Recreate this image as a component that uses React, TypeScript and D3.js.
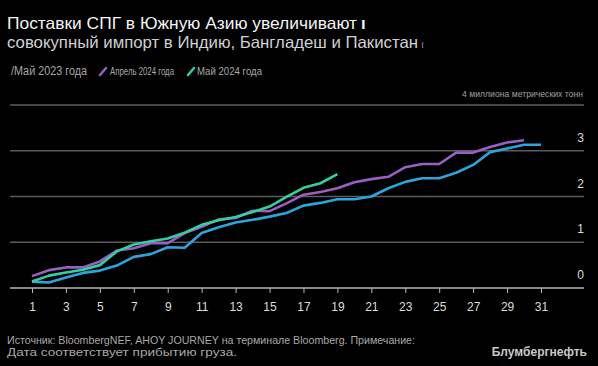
import * as d3 from "d3";
import React, { useEffect, useRef } from "react";

// Cumulative LNG imports, million metric tons, by day of month
const days = d3.range(1, 32);
const may2023 = [
  0.14, 0.12, 0.23, 0.33, 0.38, 0.49, 0.68, 0.74, 0.89, 0.88, 1.2, 1.33, 1.43,
  1.49, 1.56, 1.64, 1.8, 1.86, 1.94, 1.94, 2.0, 2.18, 2.32, 2.4, 2.4, 2.52,
  2.69, 2.97, 3.05, 3.13, 3.13,
];
const apr2024 = [
  0.26, 0.39, 0.45, 0.45, 0.58, 0.82, 0.87, 0.98, 0.98, 1.2, 1.34, 1.5, 1.53,
  1.69, 1.68, 1.85, 2.04, 2.1, 2.18, 2.31, 2.38, 2.43, 2.64, 2.71, 2.71, 2.96,
  2.96, 3.08, 3.18, 3.23,
];
const may2024 = [
  0.14, 0.27, 0.34, 0.4, 0.5, 0.8, 0.95, 1.02, 1.08, 1.21, 1.38, 1.48, 1.55,
  1.66, 1.78, 1.99, 2.19, 2.29, 2.49,
];
const yTicks = [0, 1, 2, 3, 4];
const xTicks = d3.range(1, 32, 2);

const seriesList = [
  { name: "Май 2023 года", values: may2023, color: "#2aa6dc" },
  { name: "Апрель 2024 года", values: apr2024, color: "#9a5fc2" },
  { name: "Май 2024 года", values: may2024, color: "#33cfa2" },
];

const App: React.FC = () => {
  const ref = useRef<SVGSVGElement>(null);

  useEffect(() => {
    document.body.style.margin = "0";
    document.body.style.background = "#000";

    const width = 598;
    const height = 366;
    const font = "'Liberation Sans', Arial, sans-serif";

    const svg = d3.select(ref.current);
    svg.selectAll("*").remove();
    svg.attr("width", width).attr("height", height).style("display", "block");

    svg.append("rect")
      .attr("width", width)
      .attr("height", height)
      .attr("fill", "#000");

    // Scales
    const x = d3.scaleLinear().domain([1, 31]).range([32, 541]);
    const y = d3.scaleLinear().domain([0, 4]).range([288, 105]);

    // Title
    const title = svg.append("text")
      .attr("x", 7)
      .attr("y", 29)
      .style("font-family", font)
      .style("font-size", "16.5px")
      .attr("fill", "#f4f4f4");
    title.append("tspan")
      .attr("textLength", 350)
      .attr("lengthAdjust", "spacingAndGlyphs")
      .text("Поставки СПГ в Южную Азию увеличивают");
    title.append("tspan")
      .attr("dx", 4)
      .style("font-weight", "bold")
      .text("ı");

    const subtitle = svg.append("text")
      .attr("x", 7)
      .attr("y", 48)
      .style("font-family", font)
      .style("font-size", "16.5px")
      .attr("fill", "#d0d0d0");
    subtitle.append("tspan")
      .attr("textLength", 411)
      .attr("lengthAdjust", "spacingAndGlyphs")
      .text("совокупный импорт в Индию, Бангладеш и Пакистан");
    subtitle.append("tspan")
      .attr("dx", 3)
      .style("font-size", "11px")
      .attr("fill", "#888")
      .text("ı");

    // Legend
    const legendY = 75;
    svg.append("text")
      .attr("x", 11)
      .attr("y", legendY)
      .attr("textLength", 76)
      .attr("lengthAdjust", "spacingAndGlyphs")
      .style("font-family", font)
      .style("font-size", "12px")
      .attr("fill", "#a8a8a8")
      .text("/" + seriesList[0].name);

    const legendItems = [
      { s: seriesList[1], sx: 100, tx: 110, tw: 64 },
      { s: seriesList[2], sx: 188, tx: 197, tw: 65 },
    ];
    legendItems.forEach((d) => {
      svg.append("line")
        .attr("x1", d.sx)
        .attr("y1", legendY)
        .attr("x2", d.sx + 6)
        .attr("y2", legendY - 7)
        .attr("stroke", d.s.color)
        .attr("stroke-width", 2.5)
        .attr("stroke-linecap", "round");
      svg.append("text")
        .attr("x", d.tx)
        .attr("y", legendY)
        .attr("textLength", d.tw)
        .attr("lengthAdjust", "spacingAndGlyphs")
        .style("font-family", font)
        .style("font-size", "11px")
        .attr("fill", "#a8a8a8")
        .text(d.s.name);
    });

    // Gridlines
    svg.append("g")
      .selectAll("line")
      .data(yTicks.filter((t) => t > 0))
      .join("line")
      .attr("x1", 10)
      .attr("x2", 584)
      .attr("y1", (d) => y(d))
      .attr("y2", (d) => y(d))
      .attr("stroke", "#5c5c5c")
      .attr("stroke-width", 1.3);

    // Y labels
    svg.append("g")
      .selectAll("text")
      .data(yTicks.filter((t) => t < 4))
      .join("text")
      .attr("x", 584)
      .attr("y", (d) => y(d) - 9)
      .attr("text-anchor", "end")
      .style("font-family", font)
      .style("font-size", "12px")
      .attr("fill", "#dcdcdc")
      .text((d) => d);

    svg.append("text")
      .attr("x", 462)
      .attr("y", 97)
      .attr("textLength", 121)
      .attr("lengthAdjust", "spacingAndGlyphs")
      .style("font-family", font)
      .style("font-size", "9px")
      .attr("fill", "#a0a0a0")
      .text("4 миллиона метрических тонн");

    // X axis
    svg.append("line")
      .attr("x1", 10)
      .attr("x2", 584)
      .attr("y1", y(0))
      .attr("y2", y(0))
      .attr("stroke", "#b5b5b5")
      .attr("stroke-width", 1.3);

    const xAxis = svg.append("g")
      .attr("transform", `translate(0,${y(0)})`)
      .call(
        d3.axisBottom(x)
          .tickValues(xTicks)
          .tickSize(5)
          .tickSizeOuter(0)
          .tickPadding(9)
          .tickFormat((d) => String(d))
      );
    xAxis.select(".domain").remove();
    xAxis.selectAll(".tick line").attr("stroke", "#b5b5b5");
    xAxis.selectAll(".tick text")
      .attr("fill", "#dcdcdc")
      .style("font-family", font)
      .style("font-size", "12px");

    // Lines
    const line = d3.line<number>()
      .x((_, i) => x(days[i]))
      .y((d) => y(d));

    svg.append("g")
      .selectAll("path")
      .data(seriesList)
      .join("path")
      .attr("d", (d) => line(d.values))
      .attr("fill", "none")
      .attr("stroke", (d) => d.color)
      .attr("stroke-width", 2.6)
      .attr("stroke-linejoin", "round");

    // Footer
    svg.append("text")
      .attr("x", 7)
      .attr("y", 344)
      .attr("textLength", 408)
      .attr("lengthAdjust", "spacingAndGlyphs")
      .style("font-family", font)
      .style("font-size", "11px")
      .attr("fill", "#a8a8a8")
      .text("Источник: BloombergNEF, AHOY JOURNEY на терминале Bloomberg. Примечание:");

    svg.append("text")
      .attr("x", 7)
      .attr("y", 356)
      .attr("textLength", 230)
      .attr("lengthAdjust", "spacingAndGlyphs")
      .style("font-family", font)
      .style("font-size", "11px")
      .attr("fill", "#a8a8a8")
      .text("Дата соответствует прибытию груза.");

    svg.append("text")
      .attr("x", 587)
      .attr("y", 356)
      .attr("text-anchor", "end")
      .style("font-family", font)
      .style("font-size", "12px")
      .style("font-weight", "bold")
      .attr("fill", "#c8c8c8")
      .text("Блумбергнефть");
  }, []);

  return <svg ref={ref}></svg>;
};

export default App;
